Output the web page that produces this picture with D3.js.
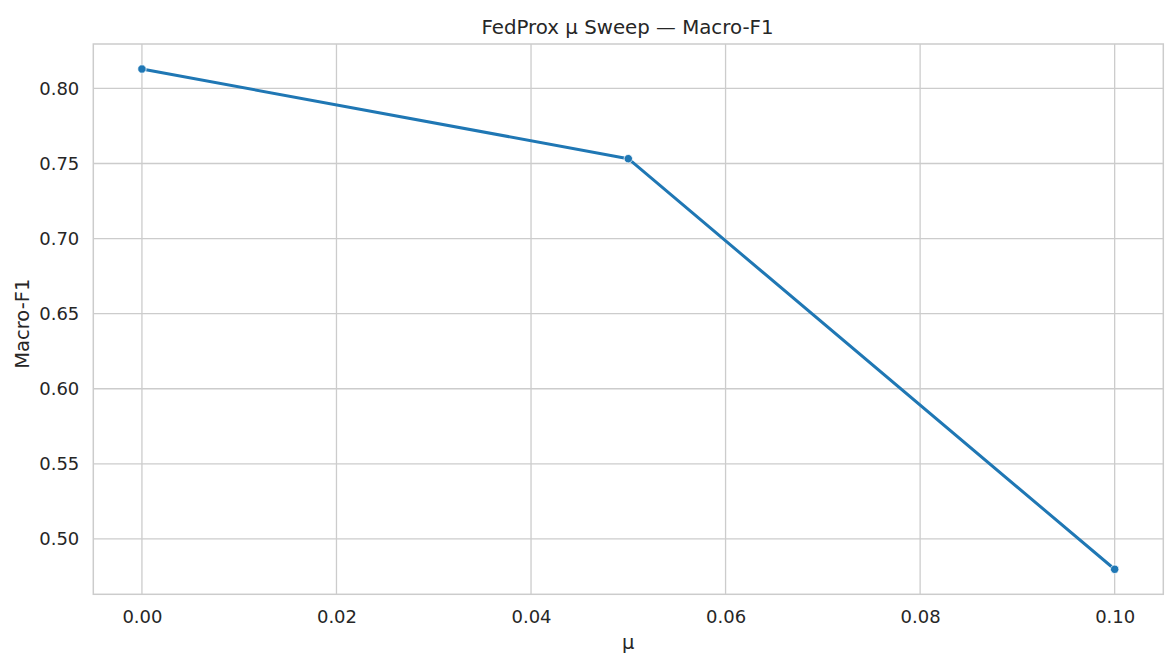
<!DOCTYPE html>
<html><head><meta charset="utf-8">
<script src="https://cdn.jsdelivr.net/npm/d3@7"></script>
<style>body{margin:0;background:#fff;} text{font-family:"DejaVu Sans",sans-serif;fill:#262626;}</style>
</head><body>
<svg id="c" width="1167" height="666"></svg>
<script>
const muValues = [0.0, 0.05, 0.10];
const macroF1 = [0.8129, 0.7532, 0.4798];
const xTicks = [0.00, 0.02, 0.04, 0.06, 0.08, 0.10];
const yTicks = [0.50, 0.55, 0.60, 0.65, 0.70, 0.75, 0.80];
const title = "FedProx μ Sweep — Macro-F1";
const xLabel = "μ";
const yLabel = "Macro-F1";

const svg = d3.select("#c");
const L = 93.3, R = 1163.3, T = 44, B = 594.3;
const xMin = d3.min(muValues), xMax = d3.max(muValues), xm = (xMax - xMin) * 0.05;
const yMin = d3.min(macroF1), yMax = d3.max(macroF1), ym = (yMax - yMin) * 0.05;
const x = d3.scaleLinear().domain([xMin - xm, xMax + xm]).range([L, R]);
const y = d3.scaleLinear().domain([yMin - ym, yMax + ym]).range([B, T]);

const grid = svg.append("g");
grid.selectAll(".gx").data(xTicks).join("line")
  .attr("x1", d => x(d)).attr("x2", d => x(d)).attr("y1", T).attr("y2", B)
  .attr("stroke", "#cccccc").attr("stroke-width", 1.3);
grid.selectAll(".gy").data(yTicks).join("line")
  .attr("y1", d => y(d)).attr("y2", d => y(d)).attr("x1", L).attr("x2", R)
  .attr("stroke", "#cccccc").attr("stroke-width", 1.3);
svg.append("rect").attr("x", L).attr("y", T).attr("width", R - L).attr("height", B - T)
  .attr("fill", "none").attr("stroke", "#cccccc").attr("stroke-width", 1.5);

const xAxis = d3.axisBottom(x).tickValues(xTicks).tickFormat(d3.format(".2f")).tickSize(0).tickPadding(16);
const gx = svg.append("g").attr("transform", `translate(0,${B})`).call(xAxis);
gx.select(".domain").remove();
gx.selectAll("text").style("font-size", "18px").attr("fill", "#262626");
const yAxis = d3.axisLeft(y).tickValues(yTicks).tickFormat(d3.format(".2f")).tickSize(0).tickPadding(14);
const gy = svg.append("g").attr("transform", `translate(${L},0)`).call(yAxis);
gy.select(".domain").remove();
gy.selectAll("text").style("font-size", "18px").attr("fill", "#262626");

const pts = muValues.map((m, i) => [m, macroF1[i]]);
svg.append("path").datum(pts)
  .attr("d", d3.line().x(d => x(d[0])).y(d => y(d[1])))
  .attr("fill", "none").attr("stroke", "#1f77b4").attr("stroke-width", 3)
  .attr("stroke-linejoin", "round").attr("stroke-linecap", "square");
svg.selectAll(".pt").data(pts).join("circle")
  .attr("cx", d => x(d[0])).attr("cy", d => y(d[1])).attr("r", 4.2)
  .attr("fill", "#1f77b4").attr("stroke", "#fff").attr("stroke-width", 0.8);

svg.append("text").attr("x", 627.5).attr("y", 34).attr("text-anchor", "middle")
  .style("font-size", "19.8px").text(title);
svg.append("text").attr("x", (L + R) / 2).attr("y", 649).attr("text-anchor", "middle")
  .style("font-size", "19.5px").text(xLabel);
svg.append("text").attr("transform", `translate(29,323.7) rotate(-90)`).attr("text-anchor", "middle")
  .style("font-size", "19.5px").text(yLabel);
</script>
</body></html>
